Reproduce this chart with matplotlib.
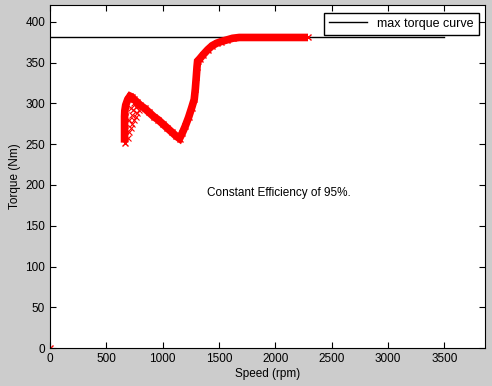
import numpy as np
import matplotlib.pyplot as plt

plt.rcParams['font.family'] = ['Liberation Sans', 'DejaVu Sans']

# operating points (speed rpm, torque Nm)
speed = [0, 662, 662, 662, 662, 662, 664, 672, 690, 710, 725, 745, 770, 800, 840, 880,
         920, 960, 1000, 1040, 1080, 1120, 1150, 1175, 1200, 1230, 1258, 1280,
         1290, 1298, 1305, 1310, 1330, 1360, 1400, 1440, 1480, 1520, 1570, 1620,
         1680, 1750, 1850, 1950, 2050, 2150, 2250, 2290]
torque = [0, 252, 260, 268, 276, 284, 291, 298, 305, 309, 308, 305, 302, 298, 294, 289,
          284, 280, 275, 270, 265, 260, 257, 264, 272, 283, 295, 305,
          318, 332, 345, 352, 355, 360, 366, 371, 374, 376, 378, 380,
          381, 381, 381, 381, 381, 381, 381, 381]

# scattered points inside the loop
inner_speed = [690, 700, 715, 730, 745, 760, 775, 790, 705, 725, 740, 760, 780, 720, 750]
inner_torque = [258, 265, 270, 275, 280, 284, 288, 292, 280, 286, 292, 296, 298, 295, 300]

max_torque = 381
max_speed = 3500

fig = plt.figure(figsize=(4.92, 3.86), dpi=100, facecolor='#cccccc')
ax = fig.add_axes([0.1016, 0.0984, 0.884, 0.889])

ax.plot([0, max_speed], [max_torque, max_torque], color='black', linewidth=1,
        label='max torque curve')
ax.plot(speed[1:], torque[1:], color='red', linewidth=5.5, solid_capstyle='butt',
        solid_joinstyle='miter')
ax.plot(speed, torque, 'x', color='red', markersize=5, markeredgewidth=1)
ax.plot(inner_speed, inner_torque, 'x', color='red', markersize=4, markeredgewidth=0.8)

ax.text(1390, 190, 'Constant Efficiency of 95%.', fontsize=8.5, va='center', ha='left')

ax.set_xlim(0, 3860)
ax.set_ylim(0, 421)
ax.set_xticks(np.arange(0, 3501, 500))
ax.set_yticks(np.arange(0, 401, 50))
ax.tick_params(direction='in', top=True, right=True, labelsize=8.5, length=4, width=0.8)
for s in ax.spines.values():
    s.set_linewidth(0.8)
ax.set_xlabel('Speed (rpm)', fontsize=8.5, labelpad=2)
ax.set_ylabel('Torque (Nm)', fontsize=8.5, labelpad=3)

ax.legend(loc='upper right', bbox_to_anchor=(0.986, 0.977), borderaxespad=0,
          fancybox=False, edgecolor='black', framealpha=1, fontsize=9,
          handlelength=3.1, borderpad=0.4)

fig.savefig('out.png', dpi=100, facecolor=fig.get_facecolor())
